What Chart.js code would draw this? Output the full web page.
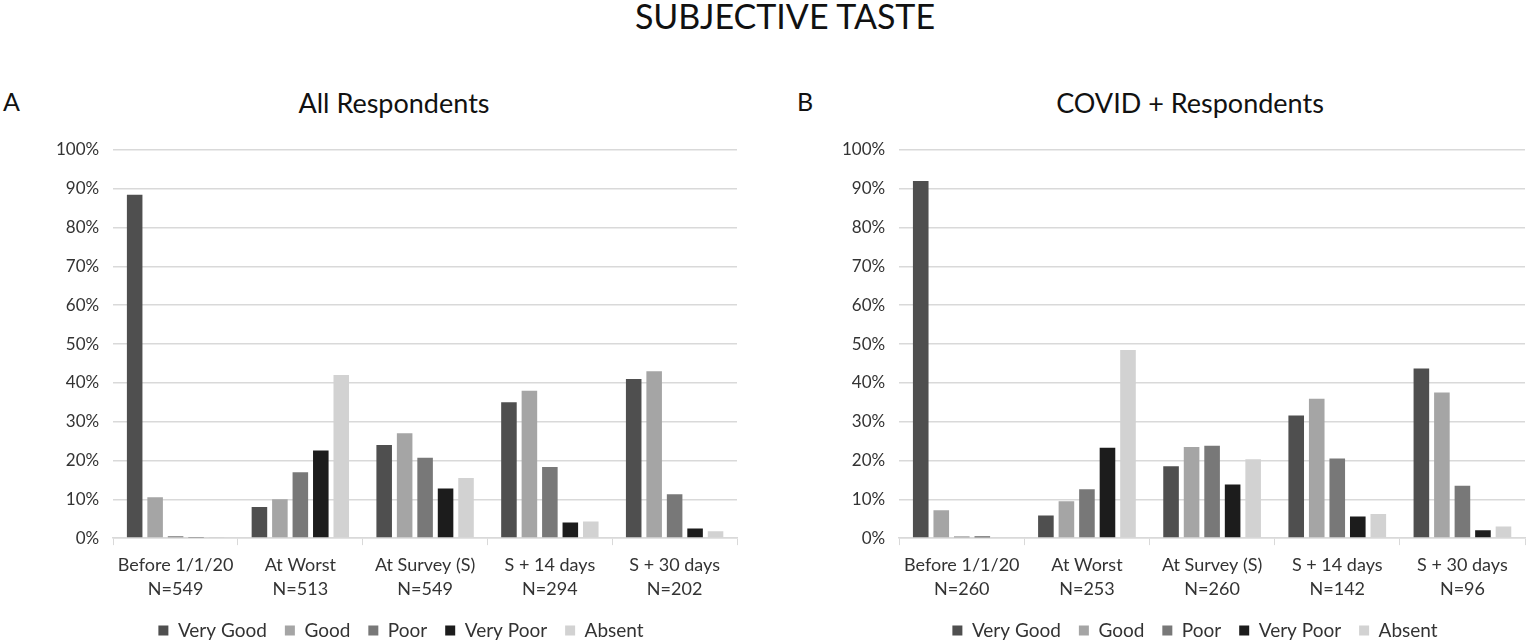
<!DOCTYPE html>
<html>
<head>
<meta charset="utf-8">
<script src="https://cdn.jsdelivr.net/npm/chart.js@4"></script>
<style>
  body { margin: 0; background: #fff; font-family: Lato, sans-serif; color: #111; }
  #page { position: relative; width: 1531px; height: 643px; overflow: hidden; }
  .txt { position: absolute; white-space: nowrap; line-height: 1; }
  #mainTitle { top: -1px; left: 385px; width: 800px; text-align: center; font-size: 34px; }
  .sub { top: 89px; width: 400px; text-align: center; font-size: 27px; }
  .letter { top: 89px; font-size: 25px; }
  .panel { position: absolute; top: 110px; width: 765px; height: 552px; }
</style>
</head>
<body>
<div id="page">
  <div id="mainTitle" class="txt">SUBJECTIVE TASTE</div>
  <div class="txt letter" style="left:3px">A</div>
  <div class="txt sub" style="left:194px">All Respondents</div>
  <div class="txt letter" style="left:797px">B</div>
  <div class="txt sub" style="left:990px">COVID + Respondents</div>
  <div class="panel" style="left:0"><canvas id="chartA"></canvas></div>
  <div class="panel" style="left:766px"><canvas id="chartB"></canvas></div>
</div>
<script>
// Categories and series
const categoriesA = [['Before 1/1/20', 'N=549'], ['At Worst', 'N=513'], ['At Survey (S)', 'N=549'], ['S + 14 days', 'N=294'], ['S + 30 days', 'N=202']];
const categoriesB = [['Before 1/1/20', 'N=260'], ['At Worst', 'N=253'], ['At Survey (S)', 'N=260'], ['S + 14 days', 'N=142'], ['S + 30 days', 'N=96']];
const seriesNames = ['Very Good', 'Good', 'Poor', 'Very Poor', 'Absent'];
const seriesColors = ['#4f4f4f', '#a5a5a5', '#787878', '#1c1c1c', '#d2d2d2'];

// Panel A: All respondents (percent)
const veryGoodA = [88.5, 8.0, 24.0, 35.0, 41.0];
const goodA     = [10.5, 10.0, 27.0, 38.0, 43.0];
const poorA     = [0.5, 17.0, 20.7, 18.3, 11.3];
const veryPoorA = [0.3, 22.6, 12.8, 4.0, 2.5];
const absentA   = [0.1, 42.0, 15.5, 4.3, 1.8];

// Panel B: COVID + respondents (percent)
const veryGoodB = [92.0, 5.8, 18.5, 31.6, 43.7];
const goodB     = [7.2, 9.5, 23.5, 35.9, 37.5];
const poorB     = [0.4, 12.6, 23.8, 20.5, 13.5];
const veryPoorB = [0.4, 23.3, 13.8, 5.6, 2.0];
const absentB   = [0.0, 48.5, 20.3, 6.2, 3.0];

const yTicks = [0, 10, 20, 30, 40, 50, 60, 70, 80, 90, 100];

// nudge the legend so it sits where the original one does
const legendShift = {
    id: 'legendShift',
    afterLayout: (chart, args, opts) => {
        if (!chart.legend) return;
        chart.legend.left += opts.dx;
        chart.legend.right += opts.dx;
        chart.legend.top += opts.dy;
        chart.legend.bottom += opts.dy;
    }
};

const makeChart = (id, labels, seriesData, pad, dx) => {
    const ctx = document.getElementById(id).getContext('2d');
    return new Chart(ctx, {
        type: 'bar',
        data: {
            labels: labels,
            datasets: seriesData.map((d, i) => ({
                label: seriesNames[i],
                data: d,
                backgroundColor: seriesColors[i],
                borderWidth: 0,
                barPercentage: 0.76,
                categoryPercentage: 0.82
            }))
        },
        plugins: [legendShift],
        options: {
            responsive: true,
            maintainAspectRatio: false,
            animation: false,
            layout: { padding: { left: pad[0], right: pad[1], top: 40, bottom: 6 } },
            scales: {
                y: {
                    min: 0,
                    max: 100,
                    afterBuildTicks: (axis) => { axis.ticks = yTicks.map(v => ({ value: v })); },
                    border: { display: false },
                    grid: { color: '#d9d9d9', lineWidth: 1.5, drawTicks: false },
                    ticks: {
                        padding: 14,
                        color: '#333',
                        font: { family: 'Lato', size: 17 },
                        callback: (v) => v + '%'
                    }
                },
                x: {
                    border: { color: '#d9d9d9', width: 1.5 },
                    grid: { display: true, drawOnChartArea: false, color: '#d9d9d9', tickLength: 7 },
                    ticks: {
                        color: '#333',
                        padding: 8,
                        maxRotation: 0,
                        autoSkip: false,
                        font: { family: 'Lato', size: 18, lineHeight: 1.33 }
                    }
                }
            },
            plugins: {
                legendShift: { dx: dx, dy: -6 },
                legend: {
                    position: 'bottom',
                    labels: {
                        boxWidth: 10,
                        boxHeight: 10,
                        padding: 18,
                        color: '#333',
                        font: { family: 'Lato', size: 19 }
                    }
                },
                tooltip: { enabled: false }
            }
        }
    });
};

makeChart('chartA', categoriesA, [veryGoodA, goodA, poorA, veryPoorA, absentA], [42, 28], 11.5);
makeChart('chartB', categoriesB, [veryGoodB, goodB, poorB, veryPoorB, absentB], [62, 6], 18.5);
</script>
</body>
</html>
